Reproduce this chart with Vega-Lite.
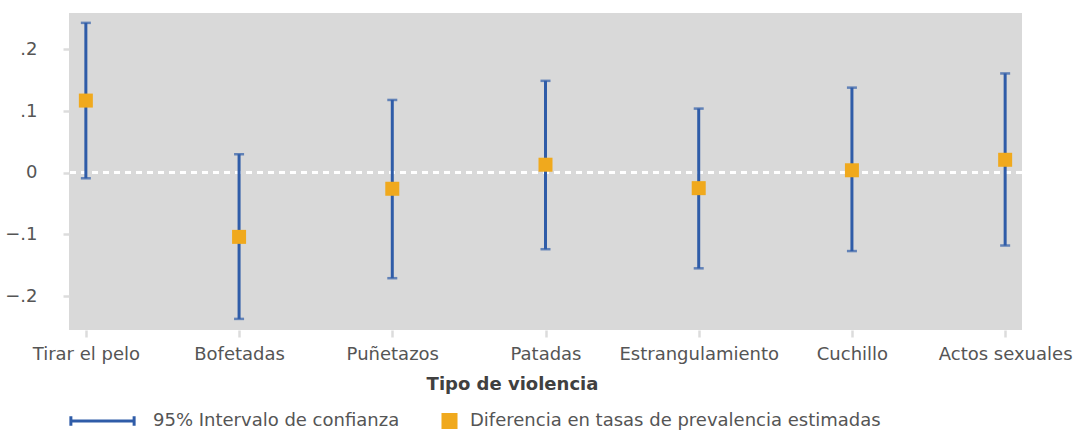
{
  "$schema": "https://vega.github.io/schema/vega-lite/v6.json",
  "width": 953,
  "height": 317,
  "padding": {"left": 4, "top": 13, "right": 2, "bottom": 0},
  "autosize": {"type": "pad"},
  "config": {
    "view": {"fill": "#d9d9d9", "stroke": null},
    "font": "DejaVu Sans"
  },
  "data": {
    "values": [
      {"tipo": "Tirar el pelo", "diff": 0.117, "lower": -0.009, "upper": 0.243},
      {"tipo": "Bofetadas", "diff": -0.104, "lower": -0.237, "upper": 0.030},
      {"tipo": "Puñetazos", "diff": -0.026, "lower": -0.171, "upper": 0.118},
      {"tipo": "Patadas", "diff": 0.013, "lower": -0.124, "upper": 0.149},
      {"tipo": "Estrangulamiento", "diff": -0.025, "lower": -0.155, "upper": 0.104},
      {"tipo": "Cuchillo", "diff": 0.004, "lower": -0.127, "upper": 0.138},
      {"tipo": "Actos sexuales", "diff": 0.021, "lower": -0.118, "upper": 0.161}
    ]
  },
  "layer": [
    {
      "mark": {"type": "rule", "color": "#ffffff", "strokeDash": [6, 5], "strokeWidth": 2.5},
      "encoding": {"y": {"datum": 0, "type": "quantitative"}}
    },
    {
      "mark": {"type": "errorbar", "thickness": 3, "ticks": {"size": 10, "thickness": 2.5}},
      "encoding": {
        "x": {
          "field": "tipo", "type": "nominal", "sort": null,
          "scale": {"type": "point", "padding": 0.11},
          "axis": {
            "labelAngle": 0, "labelFontSize": 18, "labelColor": "#555555", "labelPadding": 8,
            "tickSize": 7, "tickWidth": 2.5, "tickColor": "#dcdcdc", "domain": false, "grid": false,
            "title": "Tipo de violencia", "titleFontSize": 18, "titleFontWeight": "bold", "titleColor": "#404040",
            "titlePadding": 12, "titleX": 443
          }
        },
        "y": {
          "field": "lower", "type": "quantitative",
          "scale": {"domain": [-0.255, 0.259], "nice": false, "zero": false},
          "axis": {
            "values": [-0.2, -0.1, 0, 0.1, 0.2],
            "labelExpr": "datum.value == 0 ? '0' : replace(format(datum.value, '.1f'), '0.', '.')",
            "labelFontSize": 18, "labelColor": "#555555", "labelPadding": 26,
            "tickSize": 6, "tickWidth": 2.5, "tickColor": "#dcdcdc", "domain": false, "grid": false, "title": null
          }
        },
        "y2": {"field": "upper"},
        "color": {
          "datum": "95% Intervalo de confianza",
          "type": "nominal",
          "scale": {
            "domain": ["95% Intervalo de confianza", "Diferencia en tasas de prevalencia estimadas"],
            "range": ["#2f5ca8", "#f0a91d"]
          },
          "legend": {
            "orient": "bottom",
            "direction": "horizontal",
            "title": null,
            "labelFontSize": 18,
            "labelColor": "#555555",
            "labelLimit": 600,
            "labelOffset": 17,
            "columnPadding": 0,
            "offset": 18,
            "clipHeight": 20,
            "symbolSize": 4000,
            "symbolStrokeWidth": 3,
            "encode": {
              "symbols": {
                "update": {
                  "shape": {"signal": "datum.label == '95% Intervalo de confianza' ? 'M-1,-0.15V0.15M-1,0H1M1,-0.15V0.15' : 'M0.30,-0.205H0.712V0.205H0.30Z'"},
                  "fill": {"signal": "datum.label == '95% Intervalo de confianza' ? 'transparent' : '#f0a91d'"},
                  "stroke": {"signal": "datum.label == '95% Intervalo de confianza' ? '#2f5ca8' : 'transparent'"},
                  "strokeWidth": {"value": 3},
                  "opacity": {"value": 1}
                }
              },
              "labels": {
                "update": {
                  "x": {"signal": "datum.label == '95% Intervalo de confianza' ? 84 : 70"}
                }
              }
            }
          }
        }
      }
    },
    {
      "mark": {"type": "square", "size": 196, "opacity": 1},
      "encoding": {
        "x": {"field": "tipo", "type": "nominal", "sort": null},
        "y": {"field": "diff", "type": "quantitative"},
        "color": {"datum": "Diferencia en tasas de prevalencia estimadas", "type": "nominal"}
      }
    }
  ]
}
